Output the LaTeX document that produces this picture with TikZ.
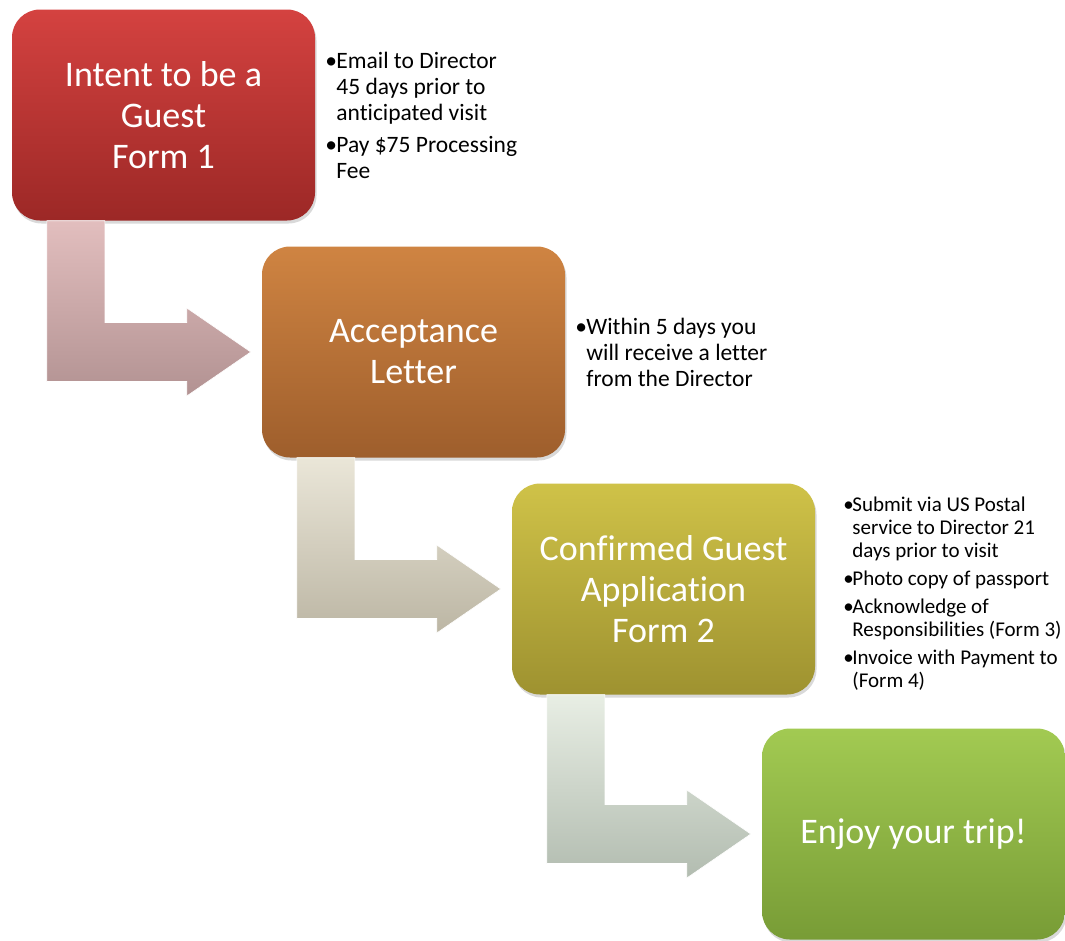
\documentclass[tikz,border=0pt]{standalone}
\usepackage{fontspec}
\setmainfont[Ligatures=NoCommon]{Carlito}
\usetikzlibrary{calc,positioning,shadows}

\definecolor{redTop}{RGB}{212,66,64}
\definecolor{redBot}{RGB}{156,40,38}
\definecolor{orangeTop}{RGB}{207,132,66}
\definecolor{orangeBot}{RGB}{158,94,44}
\definecolor{oliveTop}{RGB}{207,194,72}
\definecolor{oliveBot}{RGB}{158,146,48}
\definecolor{greenTop}{RGB}{162,202,82}
\definecolor{greenBot}{RGB}{120,156,54}
\definecolor{pinkTop}{RGB}{226,190,190}
\definecolor{pinkBot}{RGB}{178,146,146}
\definecolor{sandTop}{RGB}{234,230,216}
\definecolor{sandBot}{RGB}{188,182,164}
\definecolor{sageTop}{RGB}{232,238,228}
\definecolor{sageBot}{RGB}{178,188,176}

\newcommand{\bul}{\makebox[11pt][l]{\textbullet}}
\newcommand{\ind}{\hspace*{11pt}}
\newcommand{\bulS}{\makebox[9pt][l]{\textbullet}}
\newcommand{\indS}{\hspace*{9pt}}

\tikzstyle{stepbox} = [rounded corners=28pt, minimum width=303pt, minimum height=211pt, text=white, align=center, font=\fontsize{36}{41}\selectfont, drop shadow={opacity=0.3,shadow xshift=1.5pt,shadow yshift=-3pt}]
\tikzstyle{bentarrow} = [draw=white, line width=0.6pt]
\tikzstyle{note} = [align=left, inner sep=0pt, font=\fontsize{23.5}{26}\selectfont]

\begin{document}
\begin{tikzpicture}[x=1pt,y=1pt]

\useasboundingbox (0,0) rectangle (1065,-940);


%%% %%%
% Steps
%%% %%%


\foreach \ct/\cb/\y/\t [count=\n] in
{redTop/redBot/115/{Intent to be a\\Guest\\Form 1},orangeTop/orangeBot/352/{Acceptance\\Letter},oliveTop/oliveBot/589/{Confirmed Guest\\Application\\Form 2},greenTop/greenBot/834/{Enjoy your trip!}}
\node[stepbox,top color=\ct,bottom color=\cb] at ({163.5+250*(\n-1)},-\y) (Step\n) {\t} ;


%%% %%%
% Notes
%%% %%%


\node[note,right=10pt of Step1.east] (Note1) {\bul Email to Director\\ \ind 45 days prior to\\ \ind anticipated visit\\[6pt] \bul Pay \$75 Processing\\ \ind Fee};

\node[note,right=10pt of Step2.east] (Note2) {\bul Within 5 days you\\ \ind will receive a letter\\ \ind from the Director};

\node[note,right=28pt of Step3.east,yshift=-5pt,font=\fontsize{21}{23}\selectfont] (Note3) {\bulS Submit via US Postal\\ \indS service to Director 21\\ \indS days prior to visit\\[5pt] \bulS Photo copy of passport\\[5pt] \bulS Acknowledge of\\ \indS Responsibilities (Form 3)\\[5pt] \bulS Invoice with Payment to\\ \indS (Form 4)};


%%%
% Arrows
%%%


\foreach \a/\b/\ct/\cb in
{Step1/Step2/pinkTop/pinkBot,Step2/Step3/sandTop/sandBot,Step3/Step4/sageTop/sageBot}
\path[bentarrow,top color=\ct,bottom color=\cb] let \p1 = (\a.south west), \p2 = (\b.west) in
  (\x1+35pt,\y1) -- (\x1+35pt,\y2-29.5pt) -- (\x2-75pt,\y2-29.5pt) -- (\x2-75pt,\y2-44pt)
  -- (\x2-11pt,\y2) -- (\x2-75pt,\y2+44pt) -- (\x2-75pt,\y2+29.5pt) -- (\x1+93pt,\y2+29.5pt)
  -- (\x1+93pt,\y1) -- cycle;

\end{tikzpicture}
\end{document}
